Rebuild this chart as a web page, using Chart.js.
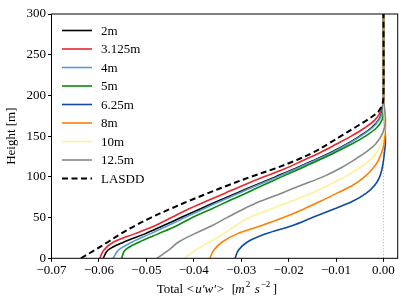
<!DOCTYPE html>
<html>
<head>
<meta charset="utf-8">
<script src="https://cdn.jsdelivr.net/npm/chart.js@4.4.0/dist/chart.umd.min.js"></script>
<style>
  html, body { margin: 0; padding: 0; background: #fff; }
  #wrap { width: 407px; height: 305px; }
</style>
</head>
<body>
<div id="wrap"><canvas id="chart-stress"></canvas></div>
<script>
// heights [m] and total <u'w'> profiles [m2 s-2]
const heights = [0, 10, 20, 30, 40, 50, 60, 70, 80, 90, 100, 110, 120, 130, 140, 150, 160, 170, 180, 190, 200, 300];

const stress2m    = [-0.0591, -0.0581, -0.0547, -0.0503, -0.0465, -0.0427, -0.0389, -0.0350, -0.0310, -0.0269, -0.0228, -0.0187, -0.0148, -0.0111, -0.0078, -0.0050, -0.0026, -0.0010, -0.0003, 0, 0, 0];
const stress3125m = [-0.0598, -0.0590, -0.0569, -0.0525, -0.0482, -0.0447, -0.0413, -0.0374, -0.0334, -0.0294, -0.0252, -0.0208, -0.0170, -0.0133, -0.0100, -0.0068, -0.0040, -0.0018, -0.0006, -0.0001, 0, 0];
const stress4m    = [-0.0570, -0.0559, -0.0530, -0.0492, -0.0455, -0.0419, -0.0382, -0.0344, -0.0305, -0.0265, -0.0224, -0.0184, -0.0145, -0.0108, -0.0076, -0.0048, -0.0024, -0.0009, -0.0002, 0, 0, 0];
const stress5m    = [-0.0552, -0.0545, -0.0515, -0.0475, -0.0436, -0.0403, -0.0365, -0.0328, -0.0290, -0.0253, -0.0215, -0.0176, -0.0138, -0.0102, -0.0068, -0.0038, -0.0015, -0.0003, 0, 0, 0, 0];
const stress625m  = [-0.0313, -0.0306, -0.0287, -0.0248, -0.0193, -0.0150, -0.0107, -0.0065, -0.0036, -0.0018, -0.0008, -0.0003, 0, 0.0002, 0.0004, 0.0004, 0.0003, 0.0002, 0.0001, 0, 0, 0];
const stress8m    = [-0.0366, -0.0358, -0.0340, -0.0309, -0.0258, -0.0211, -0.0170, -0.0133, -0.0098, -0.0064, -0.0040, -0.0023, -0.0011, -0.0004, 0.0001, 0.0003, 0.0004, 0.0004, 0.0002, 0.0001, 0, 0];
const stress10m   = [-0.0420, -0.0396, -0.0367, -0.0338, -0.0312, -0.0283, -0.0240, -0.0195, -0.0152, -0.0115, -0.0082, -0.0053, -0.0030, -0.0014, -0.0005, 0, 0.0002, 0.0002, 0.0001, 0, 0, 0];
const stress125m  = [-0.0478, -0.0453, -0.0432, -0.0399, -0.0362, -0.0330, -0.0297, -0.0260, -0.0215, -0.0172, -0.0128, -0.0093, -0.0064, -0.0038, -0.0017, -0.0005, 0.0002, 0.0004, 0.0003, 0.0001, 0, 0];
const stressLASDD = [-0.0638, -0.0609, -0.0581, -0.0554, -0.0524, -0.0490, -0.0452, -0.0412, -0.0370, -0.0326, -0.0280, -0.0230, -0.0186, -0.0148, -0.0118, -0.0090, -0.0062, -0.0034, -0.0011, -0.0002, 0, 0];

const seriesLabels = [`2m`, `3.125m`, `4m`, `5m`, `6.25m`, `8m`, `10m`, `12.5m`, `LASDD`];
const seriesValues = [stress2m, stress3125m, stress4m, stress5m, stress625m, stress8m, stress10m, stress125m, stressLASDD];

const xTicks = [-0.07, -0.06, -0.05, -0.04, -0.03, -0.02, -0.01, 0.00];
const yTicks = [0, 50, 100, 150, 200, 250, 300];

// styles
const lineColors = [`#000000`, `#e8262b`, `#5b9bd5`, `#0a8a0a`, `#0d4aa0`, `#ff8000`, `#fff09a`, `#888888`, `#000000`];
const serif = `'Liberation Serif', 'Times New Roman', serif`;

Chart.defaults.font.family = serif;
Chart.defaults.font.size = 13;
Chart.defaults.color = `#000`;

const toPoints = (vals) => vals.map((v, i) => ({x: v, y: heights[i]}));

const datasets = seriesValues.map((vals, i) => ({
  label: seriesLabels[i],
  data: toPoints(vals),
  borderColor: lineColors[i],
  borderWidth: seriesLabels[i] === `LASDD` ? 2 : 1.6,
  borderDash: seriesLabels[i] === `LASDD` ? [6, 3.5] : [],
  order: seriesLabels[i] === `LASDD` ? 0 : 10 - i,
}));

// thin dotted reference line at zero
datasets.push({
  label: `zero`,
  hideInLegend: true,
  data: [{x: 0, y: 0}, {x: 0, y: 300}],
  borderColor: `#6a9fd0`,
  borderWidth: 0.8,
  borderDash: [1, 2],
  tension: 0,
  order: 20,
});

// axes frame (all four spines)
const framePlugin = {
  id: `frame`,
  afterDatasetsDraw(chart) {
    const {ctx, chartArea: a} = chart;
    ctx.save();
    ctx.strokeStyle = `#000`;
    ctx.lineWidth = 1;
    ctx.strokeRect(a.left, a.top, a.right - a.left, a.bottom - a.top);
    ctx.restore();
  }
};

// legend in the upper left of the axes
const legendPlugin = {
  id: `innerLegend`,
  afterDraw(chart) {
    const {ctx, chartArea: a} = chart;
    ctx.save();
    ctx.font = `13px ${serif}`;
    ctx.textBaseline = `middle`;
    ctx.fillStyle = `#000`;
    let row = 0;
    chart.data.datasets.forEach((ds) => {
      if (ds.hideInLegend) return;
      const y = a.top + 16.5 + row * 18.5;
      ctx.strokeStyle = ds.borderColor;
      ctx.lineWidth = ds.borderWidth;
      ctx.setLineDash(ds.borderDash || []);
      ctx.beginPath();
      ctx.moveTo(a.left + 10.5, y);
      ctx.lineTo(a.left + 40.5, y);
      ctx.stroke();
      ctx.setLineDash([]);
      ctx.fillText(ds.label, a.left + 49.5, y + 1);
      row++;
    });
    ctx.restore();
  }
};

// x axis label with math italics and superscripts
const xTitlePlugin = {
  id: `xTitle`,
  afterDraw(chart) {
    const {ctx} = chart;
    const parts = [
      [`Total`, ``, 0, false],
      [`<`, ``, 30, false],
      [`u\u2032w\u2032`, `italic `, 38.5, false],
      [`>`, ``, 60, false],
      [`[`, ``, 75, false],
      [`m`, `italic `, 78.5, false],
      [`2`, ``, 89, true],
      [`s`, `italic `, 98, false],
      [`\u22122`, ``, 104, true],
      [`]`, ``, 116, false],
    ];
    const x0 = 156.7;
    const base = 292.5;
    ctx.save();
    ctx.fillStyle = `#000`;
    ctx.textBaseline = `alphabetic`;
    parts.forEach(([txt, style, dx, sup]) => {
      ctx.font = `${style}${sup ? 9 : 13}px ${serif}`;
      ctx.fillText(txt, x0 + dx, sup ? base - 5.5 : base);
    });
    ctx.restore();
  }
};

const ctxStress = document.getElementById(`chart-stress`);

const chartStress = new Chart(ctxStress, {
  type: `line`,
  data: {datasets},
  options: {
    indexAxis: `y`,
    responsive: true,
    maintainAspectRatio: false,
    animation: false,
    layout: {
      padding: {top: 14, right: 9.3, left: 0, bottom: 0}
    },
    elements: {
      point: {radius: 0},
      line: {tension: 0.35, fill: false}
    },
    plugins: {
      legend: {display: false},
      tooltip: {enabled: false}
    },
    scales: {
      x: {
        type: `linear`,
        min: -0.07,
        max: 0.003,
        afterBuildTicks: (scale) => { scale.ticks = xTicks.map((v) => ({value: v})); },
        afterFit: (scale) => { scale.height = 46.7; },
        border: {display: false},
        grid: {drawOnChartArea: false, drawTicks: true, tickLength: 3.5, color: `#000`, lineWidth: 1},
        ticks: {
          padding: 1,
          maxRotation: 0,
          font: {size: 13},
          callback: (v) => (v < -1e-9 ? `\u2212` : ``) + Math.abs(v).toFixed(2),
        },
        title: {display: false}
      },
      y: {
        type: `linear`,
        min: 0,
        max: 300,
        afterBuildTicks: (scale) => { scale.ticks = yTicks.map((v) => ({value: v})); },
        afterFit: (scale) => { scale.width = 51.5; },
        border: {display: false},
        grid: {drawOnChartArea: false, drawTicks: true, tickLength: 3.5, color: `#000`, lineWidth: 1},
        ticks: {padding: 2, font: {size: 13}},
        title: {
          display: true,
          text: `Height [m]`,
          font: {size: 13},
          padding: {top: 4, bottom: 0},
        }
      }
    }
  },
  plugins: [framePlugin, legendPlugin, xTitlePlugin]
});
</script>
</body>
</html>
